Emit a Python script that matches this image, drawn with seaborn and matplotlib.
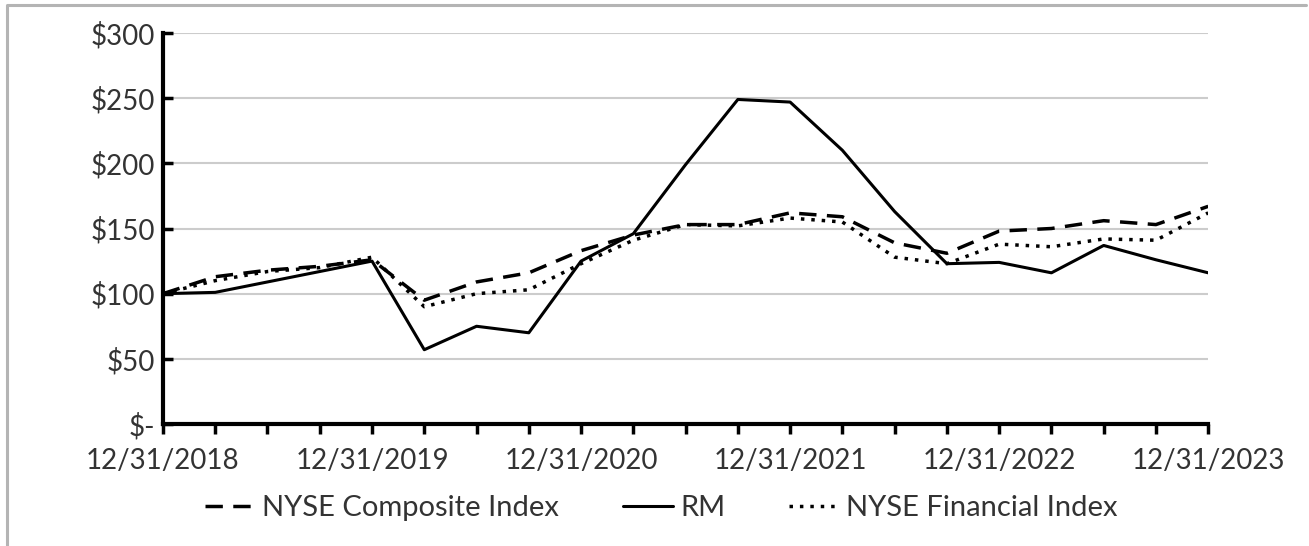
import numpy as np
import pandas as pd
import seaborn as sns
from matplotlib import pyplot as plt
from matplotlib.lines import Line2D

# quarter ends, 12/31/2018 .. 12/31/2023
quarters = ["12/31/2018", "3/31/2019", "6/30/2019", "9/30/2019",
            "12/31/2019", "3/31/2020", "6/30/2020", "9/30/2020",
            "12/31/2020", "3/31/2021", "6/30/2021", "9/30/2021",
            "12/31/2021", "3/31/2022", "6/30/2022", "9/30/2022",
            "12/31/2022", "3/31/2023", "6/30/2023", "9/30/2023",
            "12/31/2023"]

nyse_composite = [100, 113, 118, 121, 126, 95, 109, 116, 133, 145, 153, 153,
                  162, 159, 139, 131, 148, 150, 156, 153, 167]
rm = [100, 101, 109, 117, 125, 57, 75, 70, 125, 146, 199, 249,
      247, 210, 163, 123, 124, 116, 137, 126, 116]
nyse_financial = [100, 110, 117, 120, 128, 90, 100, 103, 123, 141, 153, 152,
                  158, 155, 128, 123, 138, 136, 142, 141, 162]

yticks = [0, 50, 100, 150, 200, 250, 300]
ytick_labels = ["$-", "$50", "$100", "$150", "$200", "$250", "$300"]

df = pd.DataFrame({
    "q": np.arange(len(quarters)),
    "NYSE Composite Index": nyse_composite,
    "RM": rm,
    "NYSE Financial Index": nyse_financial,
})

sns.set_style("white")
plt.rcParams["font.family"] = ["Lato", "DejaVu Sans"]
text_color = "#333333"

fig = plt.figure(figsize=(13.09, 5.46), dpi=100)
ax = fig.add_axes([0.1245, 0.2234, 0.7985, 0.7162])

# thin grey border on top and left of the picture
fig.lines.append(Line2D([0.005, 0.005, 0.998], [0.0, 0.99, 0.99], transform=fig.transFigure,
                        color="#b4b4b4", linewidth=2.2))

styles = {
    "NYSE Composite Index": dict(linestyle=(0, (5, 3)), linewidth=2.5),
    "RM": dict(linestyle="-", linewidth=2.2),
    "NYSE Financial Index": dict(linestyle=(0, (1, 2)), linewidth=2.5),
}
for name, st in styles.items():
    sns.lineplot(data=df, x="q", y=name, ax=ax, color="black", label=name, **st)

ax.set_xlim(0, len(quarters) - 1)
ax.set_ylim(0, 300)
ax.set_yticks(yticks)
ax.set_yticklabels(ytick_labels, fontsize=20, color=text_color)
ax.yaxis.grid(True, color="#cccccc", linewidth=1.5)
ax.set_axisbelow(True)

major = list(range(0, len(quarters), 4))
ax.set_xticks(major)
ax.set_xticklabels([quarters[i] for i in major], fontsize=20, color=text_color)
ax.set_xticks([i for i in range(len(quarters)) if i not in major], minor=True)
ax.tick_params(axis="x", which="both", bottom=True, direction="out", length=7,
               width=2.5, color="black", pad=10)
ax.tick_params(axis="y", left=True, direction="in", length=7, width=2.5,
               color="black", pad=6)
ax.set_xlabel("")
ax.set_ylabel("")

for side in ["top", "right"]:
    ax.spines[side].set_visible(False)
for side in ["left", "bottom"]:
    ax.spines[side].set_linewidth(3)
    ax.spines[side].set_color("black")

leg = ax.legend(loc="upper center", bbox_to_anchor=(0.477, -0.115), ncol=3, frameon=False,
                fontsize=21, handlelength=1.7, columnspacing=2.2, handletextpad=0.25)
for t in leg.get_texts():
    t.set_color(text_color)

plt.savefig("out.png", dpi=100)
